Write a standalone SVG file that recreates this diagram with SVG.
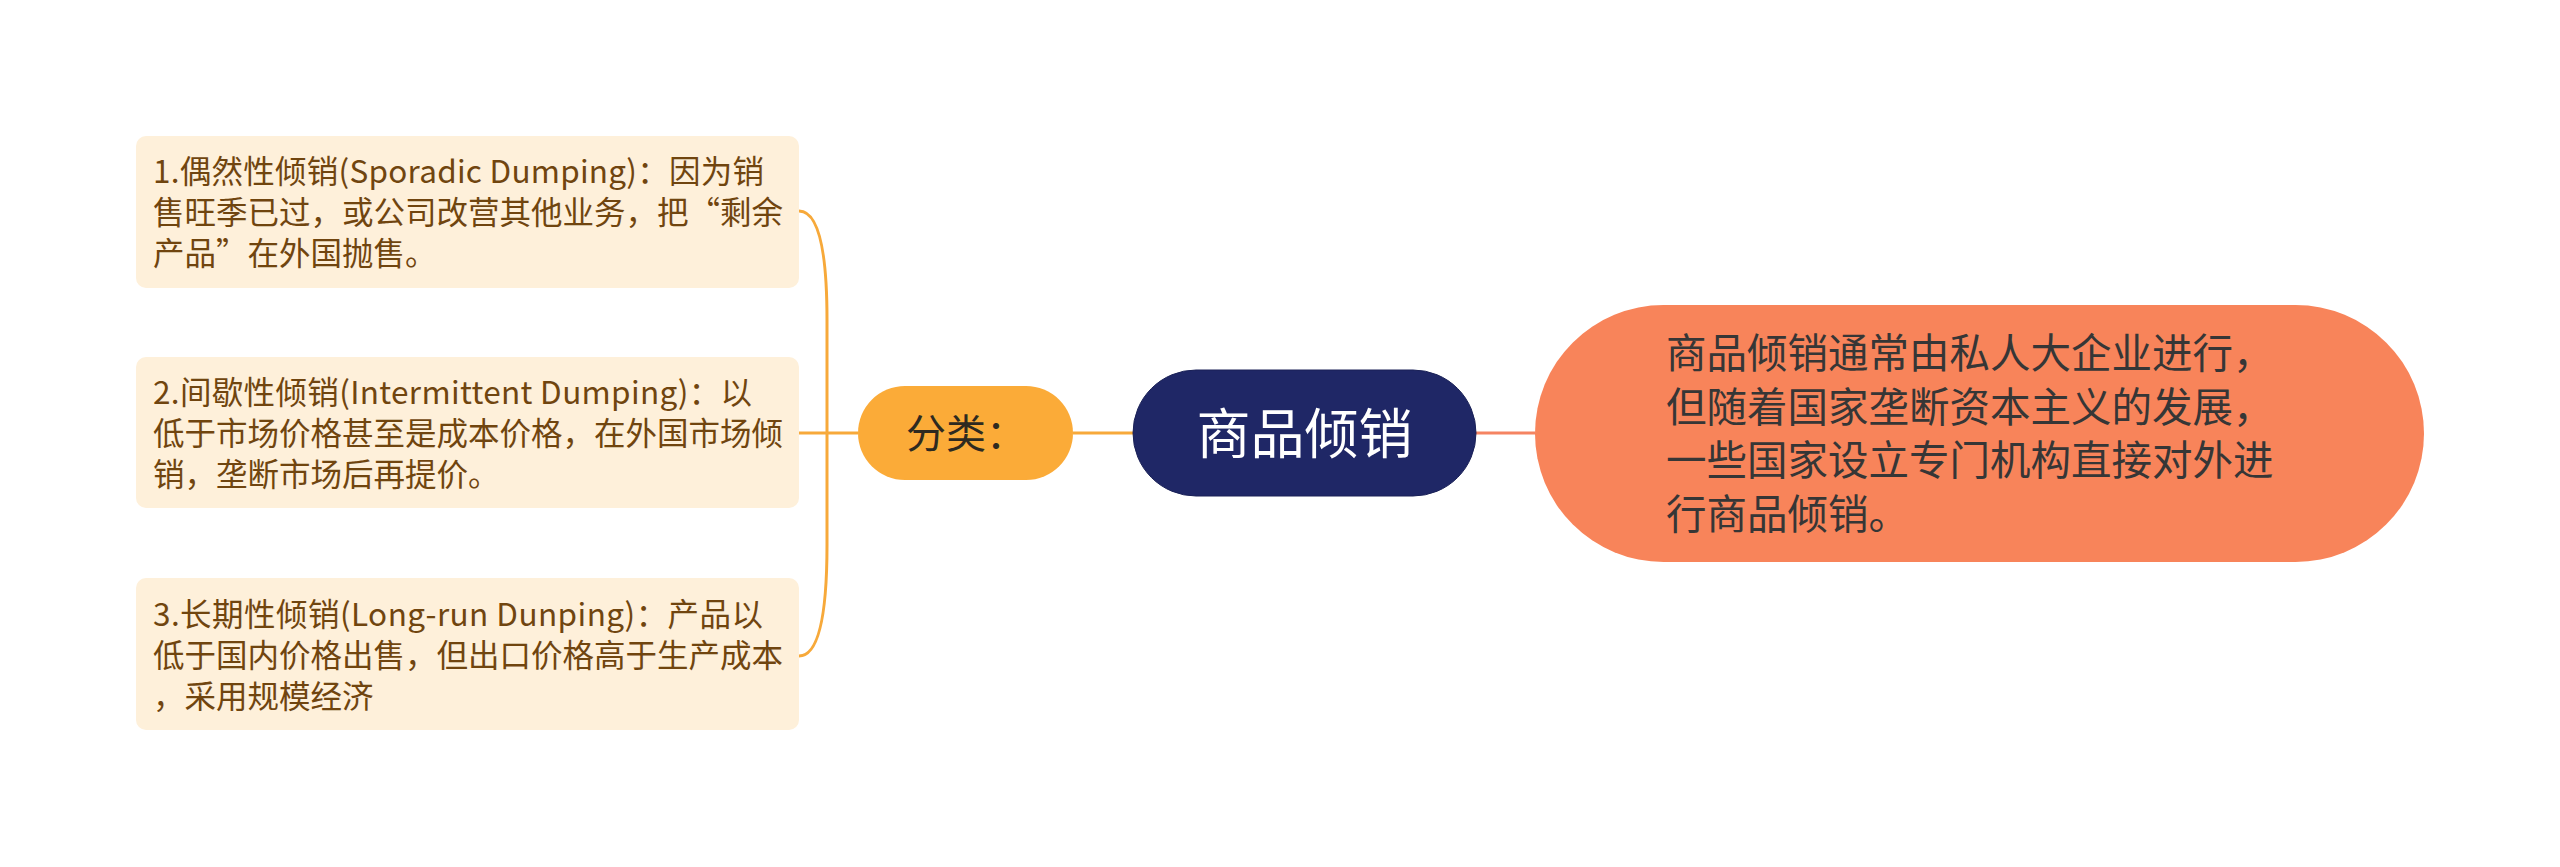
<svg xmlns="http://www.w3.org/2000/svg" width="2560" height="867" viewBox="0 0 2560 867">
<style>
.box{fill:#FEF0DA;}
.bt{font-family:"Noto Sans CJK SC","Noto Sans",sans-serif;font-size:31.5px;fill:#70450F;}
.ol{fill:none;stroke:#F7A93A;stroke-width:3;}
.sl{fill:none;stroke:#F58462;stroke-width:3;}
.cat{fill:#FBAB38;}
.catt{font-family:"Noto Sans CJK SC",sans-serif;font-size:40px;fill:#2E2A20;}
.root{fill:#1F2766;stroke:#1A2157;stroke-width:1;}
.roott{font-family:"Noto Sans CJK SC",sans-serif;font-size:54px;fill:#FFFFFF;}
.desc{fill:#F8845A;}
.desct{font-family:"Noto Sans CJK SC",sans-serif;font-size:40.5px;fill:#363636;}
</style>
<rect width="2560" height="867" fill="#FFFFFF"/>
<g id="connectors">
<path class="ol" d="M799,211 Q827,211 827,320 L827,545 Q827,656 799,656"/>
<path class="ol" d="M798,433 L858,433"/>
<path class="ol" d="M1073,433 L1133,433"/>
<path class="sl" d="M1476,433 L1535,433"/>
</g>
<g id="node-sporadic">
<rect class="box" x="136" y="136" width="663" height="152" rx="10"/>
<text class="bt" x="153" y="183" textLength="611" lengthAdjust="spacing">1.偶然性倾销(Sporadic Dumping)：因为销</text>
<text class="bt" x="153" y="224">售旺季已过，或公司改营其他业务，把“剩余</text>
<text class="bt" x="153" y="265">产品”在外国抛售。</text>
</g>
<g id="node-intermittent">
<rect class="box" x="136" y="357" width="663" height="151" rx="10"/>
<text class="bt" x="153" y="403.5" textLength="599" lengthAdjust="spacing">2.间歇性倾销(Intermittent Dumping)：以</text>
<text class="bt" x="153" y="444.5">低于市场价格甚至是成本价格，在外国市场倾</text>
<text class="bt" x="153" y="485.5">销，垄断市场后再提价。</text>
</g>
<g id="node-longrun">
<rect class="box" x="136" y="578" width="663" height="152" rx="10"/>
<text class="bt" x="153" y="625.5" textLength="610" lengthAdjust="spacing">3.长期性倾销(Long-run Dunping)：产品以</text>
<text class="bt" x="153" y="666.5">低于国内价格出售，但出口价格高于生产成本</text>
<text class="bt" x="153" y="707.5">，采用规模经济</text>
</g>
<g id="node-category">
<rect class="cat" x="858" y="386" width="215" height="94" rx="47"/>
<text class="catt" x="906" y="448">分类：</text>
</g>
<g id="node-root">
<rect class="root" x="1133" y="370" width="343" height="126" rx="63"/>
<text class="roott" x="1304.5" y="454" text-anchor="middle">商品倾销</text>
</g>
<g id="node-desc">
<rect class="desc" x="1535" y="305" width="889" height="257" rx="128.5"/>
<text class="desct" x="1666" y="368">商品倾销通常由私人大企业进行，</text>
<text class="desct" x="1666" y="421.7">但随着国家垄断资本主义的发展，</text>
<text class="desct" x="1666" y="475.4">一些国家设立专门机构直接对外进</text>
<text class="desct" x="1666" y="529">行商品倾销。</text>
</g>
</svg>
